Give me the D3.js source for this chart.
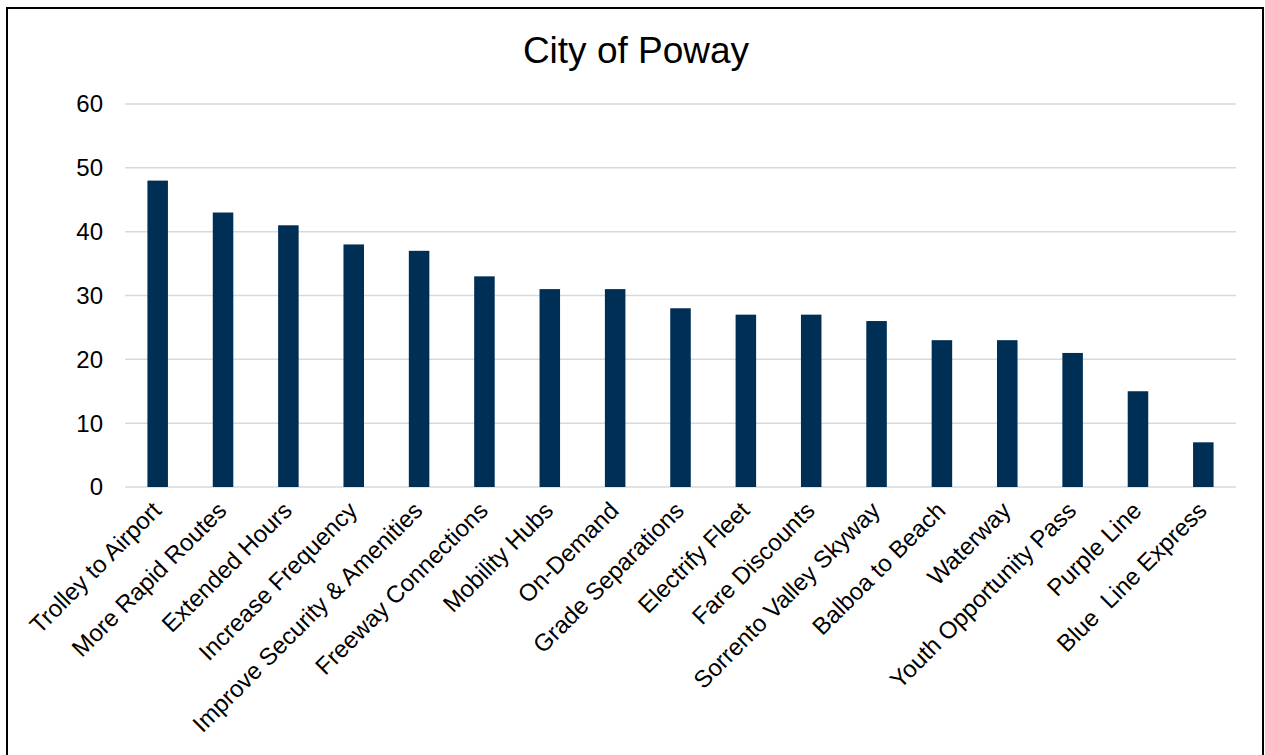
<!DOCTYPE html>
<html>
<head>
<meta charset="utf-8">
<script src="https://cdn.jsdelivr.net/npm/d3@7"></script>
<style>
  body { margin: 0; background: #fff; }
  svg { display: block; font-family: "Liberation Sans", Arial, sans-serif; }
  text { white-space: pre; }
</style>
</head>
<body>
<svg id="chart" width="1265" height="755"></svg>
<script>
// data
var categories = ["Trolley to Airport", "More Rapid Routes", "Extended Hours", "Increase Frequency",
  "Improve Security & Amenities", "Freeway Connections", "Mobility Hubs", "On-Demand",
  "Grade Separations", "Electrify Fleet", "Fare Discounts", "Sorrento Valley Skyway",
  "Balboa to Beach", "Waterway", "Youth Opportunity Pass", "Purple Line", "Blue  Line Express"];
var values = [48, 43, 41, 38, 37, 33, 31, 31, 28, 27, 27, 26, 23, 23, 21, 15, 7];
var yTicks = [0, 10, 20, 30, 40, 50, 60];
var title = "City of Poway";

var svg = d3.select("#chart");

// outer frame
svg.append("rect")
  .attr("x", 7).attr("y", 8)
  .attr("width", 1256).attr("height", 760)
  .attr("fill", "none")
  .attr("stroke", "#000")
  .attr("stroke-width", 2);

var plot = {left: 125, right: 1236, top: 104, bottom: 487};

var x = d3.scaleBand()
  .domain(categories)
  .range([plot.left, plot.right])
  .padding(0);

var y = d3.scaleLinear()
  .domain([0, 60])
  .range([plot.bottom, plot.top]);

// gridlines
svg.append("g")
  .selectAll("line")
  .data(yTicks)
  .enter()
  .append("line")
    .attr("x1", plot.left)
    .attr("x2", plot.right)
    .attr("y1", d => y(d))
    .attr("y2", d => y(d))
    .attr("stroke", "#d9d9d9")
    .attr("stroke-width", 1.5);

// y axis labels
svg.append("g")
  .selectAll("text")
  .data(yTicks)
  .enter()
  .append("text")
    .attr("x", 103)
    .attr("y", d => y(d))
    .attr("dy", "0.35em")
    .attr("text-anchor", "end")
    .style("font-size", "24px")
    .attr("fill", "#000")
    .text(d => d);

// bars
var barW = x.bandwidth() * 0.314;
svg.append("g")
  .selectAll("rect")
  .data(values)
  .enter()
  .append("rect")
    .attr("x", (d, i) => x(categories[i]) + (x.bandwidth() - barW) / 2)
    .attr("y", d => y(d))
    .attr("width", barW)
    .attr("height", d => y(0) - y(d))
    .attr("fill", "#002f56");

// category labels, rotated
svg.append("g")
  .selectAll("text")
  .data(categories)
  .enter()
  .append("text")
    .attr("transform", d => "translate(" + (x(d) + x.bandwidth() / 2 + 5) + "," + (plot.bottom + 25) + ") rotate(-45)")
    .attr("text-anchor", "end")
    .style("font-size", "24px")
    .attr("fill", "#000")
    .text(d => d);

// title
svg.append("text")
  .attr("x", 636)
  .attr("y", 63)
  .attr("text-anchor", "middle")
  .style("font-size", "37px")
  .attr("fill", "#000")
  .text(title);
</script>
</body>
</html>
